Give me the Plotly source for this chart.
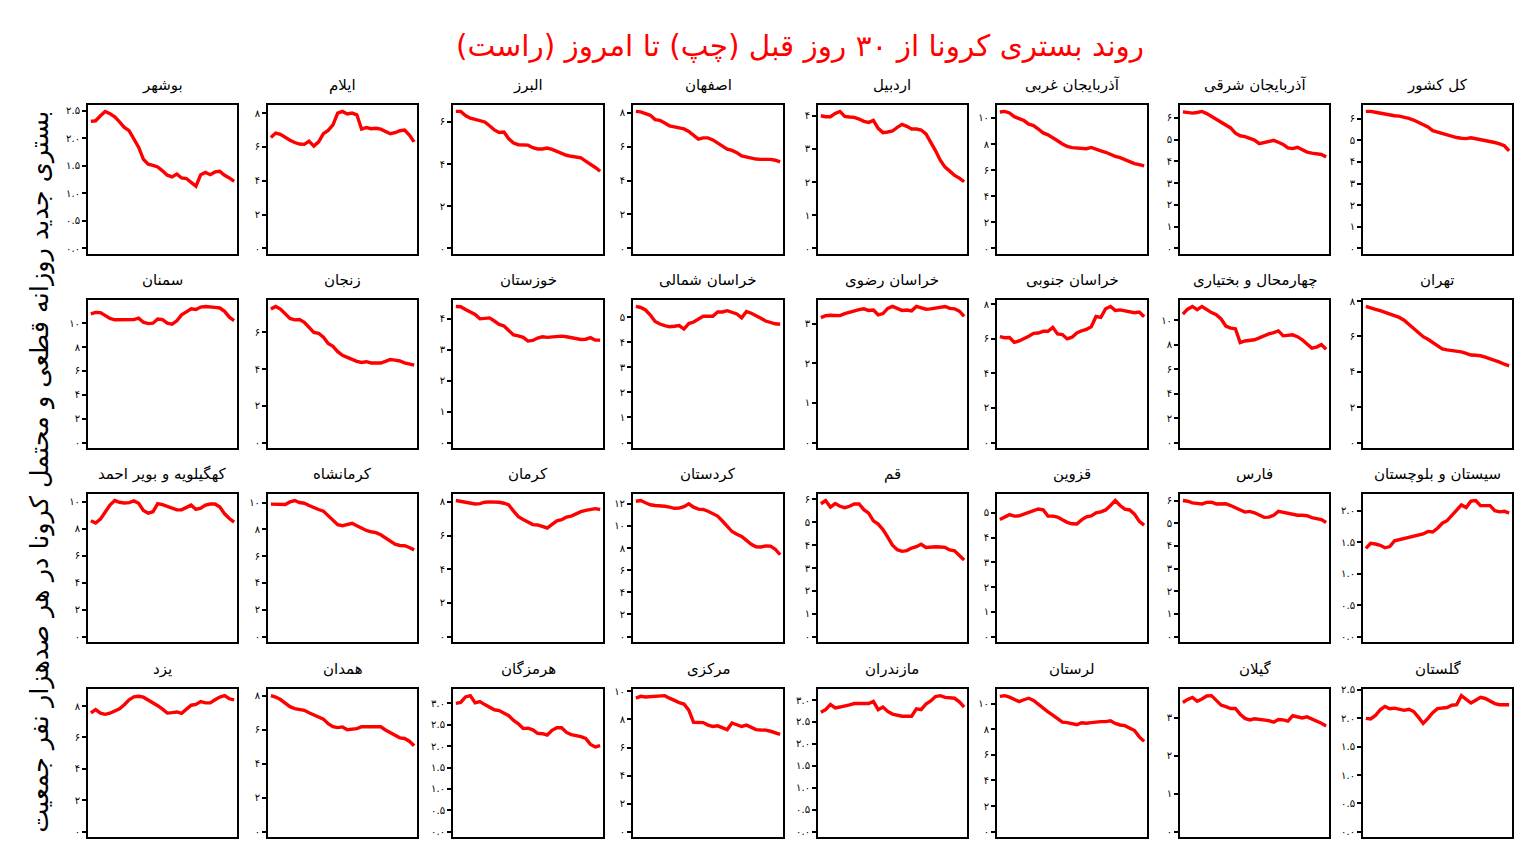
"""Small multiples: 30-day trend of new COVID hospitalisations per province."""

import math

import plotly.graph_objects as go

W, H = 1531, 859
PAGE_PAD = 8  # the browser page adds a body margin; shift everything back by it

TITLE = "روند بستری کرونا از ۳۰ روز قبل (چپ) تا امروز (راست)"
Y_LABEL = "بستری جدید روزانه قطعی و محتمل کرونا در هر صدهزار نفر جمعیت"

DAYS = list(range(31))

# values per 100k people, 30 days ago -> today
kol_keshvar = [6.34, 6.34, 6.3, 6.25, 6.2, 6.17, 6.14, 6.12, 6.08, 6.02, 5.94, 5.84, 5.74, 5.62, 5.45, 5.38,
               5.3, 5.24, 5.18, 5.13, 5.1, 5.08, 5.12, 5.08, 5.03, 5.0, 4.97, 4.9, 4.84, 4.75, 4.51]
azarbayjan_sharghi = [6.28, 6.25, 6.22, 6.25, 6.3, 6.2, 6.07, 5.97, 5.84, 5.7, 5.54, 5.3, 5.18, 5.14, 5.08, 4.98,
                      4.82, 4.87, 4.95, 4.97, 4.88, 4.78, 4.62, 4.59, 4.65, 4.55, 4.43, 4.38, 4.35, 4.32, 4.21]
azarbayjan_gharbi = [10.46, 10.5, 10.38, 10.1, 9.95, 9.8, 9.52, 9.42, 9.15, 8.85, 8.7, 8.5, 8.25, 8.0, 7.82, 7.72,
                     7.68, 7.64, 7.64, 7.74, 7.58, 7.48, 7.37, 7.2, 7.05, 6.95, 6.78, 6.62, 6.5, 6.42, 6.33]
ardabil = [4.0, 3.97, 3.97, 4.07, 4.13, 3.98, 3.96, 3.95, 3.9, 3.83, 3.8, 3.86, 3.62, 3.49, 3.51, 3.54,
           3.65, 3.74, 3.68, 3.6, 3.6, 3.57, 3.45, 3.22, 2.95, 2.66, 2.45, 2.33, 2.2, 2.12, 2.01]
esfahan = [8.08, 8.05, 7.95, 7.85, 7.6, 7.55, 7.4, 7.23, 7.17, 7.12, 7.05, 6.9, 6.67, 6.45, 6.52, 6.52,
           6.4, 6.22, 6.02, 5.85, 5.78, 5.65, 5.45, 5.38, 5.33, 5.27, 5.25, 5.25, 5.25, 5.2, 5.1]
alborz = [6.5, 6.5, 6.3, 6.18, 6.12, 6.08, 6.0, 5.82, 5.62, 5.5, 5.52, 5.2, 5.0, 4.92, 4.9, 4.9,
          4.78, 4.72, 4.72, 4.76, 4.7, 4.6, 4.53, 4.42, 4.37, 4.35, 4.3, 4.14, 4.0, 3.84, 3.66]
ilam = [6.56, 6.82, 6.74, 6.56, 6.4, 6.26, 6.17, 6.15, 6.34, 6.05, 6.3, 6.78, 6.98, 7.3, 8.0, 8.1,
        7.95, 8.0, 7.9, 7.05, 7.15, 7.08, 7.1, 7.05, 6.92, 6.78, 6.84, 6.96, 7.0, 6.7, 6.3]
bushehr = [2.31, 2.32, 2.41, 2.49, 2.45, 2.39, 2.3, 2.2, 2.14, 1.98, 1.84, 1.62, 1.53, 1.51, 1.48, 1.41,
           1.33, 1.3, 1.35, 1.28, 1.27, 1.2, 1.13, 1.34, 1.38, 1.34, 1.39, 1.4, 1.33, 1.28, 1.22]

tehran = [7.7, 7.6, 7.54, 7.46, 7.36, 7.23, 7.14, 7.08, 6.92, 6.7, 6.48, 6.24, 5.99, 5.84, 5.67, 5.47,
          5.3, 5.24, 5.21, 5.18, 5.13, 5.05, 4.95, 4.94, 4.91, 4.83, 4.75, 4.66, 4.55, 4.43, 4.34]
chaharmahal = [10.49, 10.9, 11.12, 10.86, 11.12, 10.85, 10.62, 10.45, 10.1, 9.52, 9.35, 9.3, 8.16, 8.3, 8.32, 8.4,
               8.55, 8.73, 8.87, 8.98, 9.12, 8.72, 8.73, 8.8, 8.65, 8.4, 8.05, 7.72, 7.8, 8.0, 7.62]
khorasan_jonubi = [6.13, 6.07, 6.08, 5.8, 5.88, 6.0, 6.15, 6.32, 6.34, 6.44, 6.44, 6.67, 6.29, 6.25, 6.0, 6.1,
                   6.35, 6.47, 6.55, 6.7, 7.3, 7.25, 7.75, 7.88, 7.65, 7.68, 7.62, 7.58, 7.52, 7.56, 7.28]
khorasan_razavi = [3.15, 3.2, 3.21, 3.2, 3.2, 3.25, 3.29, 3.31, 3.35, 3.37, 3.33, 3.34, 3.22, 3.25, 3.38, 3.43,
                   3.38, 3.33, 3.34, 3.32, 3.43, 3.4, 3.36, 3.37, 3.39, 3.41, 3.43, 3.38, 3.37, 3.31, 3.18]
khorasan_shomali = [5.42, 5.38, 5.28, 5.08, 4.82, 4.72, 4.66, 4.61, 4.63, 4.66, 4.52, 4.74, 4.8, 4.92, 5.03, 5.03,
                    5.03, 5.2, 5.2, 5.25, 5.2, 5.12, 4.97, 5.22, 5.15, 5.06, 4.95, 4.84, 4.78, 4.73, 4.71]
khuzestan = [4.4, 4.39, 4.3, 4.22, 4.14, 4.0, 4.02, 4.03, 3.93, 3.82, 3.77, 3.63, 3.48, 3.45, 3.4, 3.28,
             3.3, 3.38, 3.42, 3.4, 3.41, 3.43, 3.44, 3.42, 3.39, 3.35, 3.33, 3.34, 3.39, 3.31, 3.31]
zanjan = [7.27, 7.41, 7.27, 7.02, 6.76, 6.68, 6.7, 6.55, 6.25, 6.0, 5.95, 5.73, 5.4, 5.24, 4.95, 4.75,
          4.64, 4.52, 4.42, 4.36, 4.4, 4.33, 4.31, 4.33, 4.42, 4.52, 4.49, 4.44, 4.34, 4.26, 4.22]
semnan = [10.77, 10.9, 10.88, 10.65, 10.4, 10.28, 10.27, 10.25, 10.25, 10.3, 10.42, 10.08, 9.96, 10.0, 10.35, 10.3,
          10.0, 9.92, 10.2, 10.7, 10.95, 11.2, 11.15, 11.35, 11.4, 11.33, 11.32, 11.27, 10.99, 10.5, 10.22]

sistan = [1.4, 1.48, 1.47, 1.45, 1.41, 1.43, 1.52, 1.54, 1.56, 1.58, 1.59, 1.62, 1.63, 1.67, 1.66, 1.72,
          1.8, 1.84, 1.92, 2.0, 2.09, 2.05, 2.15, 2.16, 2.08, 2.08, 2.08, 2.0, 1.98, 1.99, 1.96]
fars = [6.0, 5.97, 5.9, 5.86, 5.85, 5.92, 5.93, 5.85, 5.85, 5.86, 5.78, 5.68, 5.55, 5.49, 5.52, 5.46,
        5.36, 5.26, 5.27, 5.35, 5.52, 5.47, 5.42, 5.38, 5.35, 5.35, 5.33, 5.25, 5.2, 5.16, 5.03]
qazvin = [4.73, 4.85, 4.93, 4.87, 4.88, 4.95, 5.02, 5.08, 5.16, 5.13, 4.87, 4.87, 4.83, 4.72, 4.62, 4.56,
          4.55, 4.72, 4.84, 4.88, 5.0, 5.04, 5.12, 5.3, 5.5, 5.3, 5.15, 5.12, 4.95, 4.66, 4.51]
qom = [5.81, 5.95, 5.66, 5.82, 5.7, 5.64, 5.7, 5.8, 5.8, 5.55, 5.4, 5.06, 4.92, 4.68, 4.35, 4.0,
       3.8, 3.73, 3.76, 3.87, 3.93, 4.04, 3.9, 3.93, 3.93, 3.92, 3.9, 3.79, 3.75, 3.55, 3.35]
kordestan = [12.24, 12.3, 12.1, 11.92, 11.85, 11.85, 11.78, 11.7, 11.6, 11.62, 11.75, 12.0, 11.7, 11.52, 11.49,
             11.33, 11.15, 10.9, 10.45, 9.92, 9.5, 9.25, 9.05, 8.7, 8.35, 8.12, 8.1, 8.2, 8.18, 7.9, 7.4]
kerman = [8.08, 8.02, 7.96, 7.92, 7.88, 7.9, 7.98, 8.0, 8.0, 7.98, 7.92, 7.82, 7.45, 7.12, 6.95, 6.78,
          6.65, 6.63, 6.55, 6.45, 6.67, 6.88, 6.94, 7.1, 7.16, 7.3, 7.42, 7.5, 7.55, 7.6, 7.55]
kermanshah = [9.88, 9.88, 9.82, 9.86, 10.05, 10.15, 10.0, 9.95, 9.78, 9.6, 9.48, 9.36, 9.0, 8.68, 8.35, 8.27,
              8.36, 8.45, 8.27, 8.07, 7.92, 7.82, 7.76, 7.6, 7.38, 7.1, 6.9, 6.8, 6.78, 6.65, 6.47]
kohgiluyeh = [8.59, 8.41, 8.7, 9.2, 9.75, 10.08, 9.95, 9.9, 9.93, 10.05, 9.88, 9.35, 9.15, 9.25, 9.85, 9.78,
              9.65, 9.5, 9.39, 9.39, 9.55, 9.74, 9.42, 9.52, 9.75, 9.82, 9.82, 9.6, 9.1, 8.75, 8.49]

golestan = [2.0, 1.99, 2.05, 2.15, 2.21, 2.17, 2.18, 2.16, 2.14, 2.16, 2.12, 2.02, 1.91, 2.0, 2.1, 2.17,
            2.18, 2.19, 2.23, 2.24, 2.4, 2.34, 2.27, 2.32, 2.37, 2.35, 2.3, 2.26, 2.24, 2.24, 2.24]
gilan = [3.41, 3.49, 3.54, 3.44, 3.5, 3.58, 3.59, 3.47, 3.34, 3.3, 3.25, 3.25, 3.1, 2.99, 2.95, 2.98,
         2.96, 2.96, 2.93, 2.89, 2.96, 2.95, 2.92, 3.06, 3.02, 3.0, 3.03, 2.98, 2.92, 2.86, 2.79]
lorestan = [10.56, 10.62, 10.5, 10.3, 10.15, 10.3, 10.42, 10.25, 9.95, 9.58, 9.36, 9.1, 8.8, 8.55, 8.51, 8.42,
            8.35, 8.5, 8.47, 8.51, 8.58, 8.59, 8.59, 8.65, 8.45, 8.33, 8.28, 8.1, 7.9, 7.4, 7.05]
mazandaran = [2.72, 2.78, 2.9, 2.82, 2.84, 2.86, 2.89, 2.92, 2.92, 2.91, 2.92, 2.97, 2.78, 2.84, 2.74, 2.68,
              2.65, 2.63, 2.63, 2.63, 2.8, 2.78, 2.91, 2.98, 3.08, 3.1, 3.06, 3.05, 3.04, 2.96, 2.84]
markazi = [9.53, 9.65, 9.6, 9.63, 9.65, 9.68, 9.7, 9.52, 9.35, 9.2, 9.1, 8.66, 7.8, 7.78, 7.78, 7.6,
           7.5, 7.55, 7.43, 7.28, 7.75, 7.6, 7.5, 7.6, 7.45, 7.28, 7.25, 7.24, 7.16, 7.06, 6.94]
hormozgan = [3.0, 3.02, 3.15, 3.18, 3.01, 3.04, 2.97, 2.9, 2.85, 2.83, 2.77, 2.71, 2.6, 2.52, 2.41, 2.42,
             2.38, 2.3, 2.29, 2.26, 2.37, 2.43, 2.43, 2.32, 2.27, 2.25, 2.22, 2.18, 2.04, 1.98, 2.01]
hamedan = [8.0, 7.92, 7.77, 7.58, 7.35, 7.24, 7.2, 7.14, 6.99, 6.86, 6.75, 6.62, 6.35, 6.18, 6.12, 6.16,
           6.0, 6.05, 6.06, 6.18, 6.19, 6.17, 6.16, 6.17, 5.98, 5.82, 5.68, 5.52, 5.48, 5.32, 5.05]
yazd = [7.56, 7.77, 7.55, 7.47, 7.54, 7.68, 7.82, 8.08, 8.4, 8.58, 8.62, 8.56, 8.4, 8.2, 8.02, 7.8,
        7.55, 7.58, 7.62, 7.53, 7.77, 8.05, 8.1, 8.28, 8.2, 8.2, 8.4, 8.57, 8.66, 8.46, 8.39]

# panel order: row by row, right to left
PROVINCE_NAMES = [
    "کل کشور", "آذربایجان شرقی", "آذربایجان غربی", "اردبیل", "اصفهان", "البرز", "ایلام", "بوشهر",
    "تهران", "چهارمحال و بختیاری", "خراسان جنوبی", "خراسان رضوی", "خراسان شمالی", "خوزستان", "زنجان", "سمنان",
    "سیستان و بلوچستان", "فارس", "قزوین", "قم", "کردستان", "کرمان", "کرمانشاه", "کهگیلویه و بویر احمد",
    "گلستان", "گیلان", "لرستان", "مازندران", "مرکزی", "هرمزگان", "همدان", "یزد",
]
SERIES = [
    kol_keshvar, azarbayjan_sharghi, azarbayjan_gharbi, ardabil, esfahan, alborz, ilam, bushehr,
    tehran, chaharmahal, khorasan_jonubi, khorasan_razavi, khorasan_shomali, khuzestan, zanjan, semnan,
    sistan, fars, qazvin, qom, kordestan, kerman, kermanshah, kohgiluyeh,
    golestan, gilan, lorestan, mazandaran, markazi, hormozgan, hamedan, yazd,
]
TICK_STEPS = [
    1, 1, 2, 1, 2, 2, 2, 0.5,
    2, 2, 2, 1, 1, 1, 2, 2,
    0.5, 1, 1, 1, 2, 2, 2, 2,
    0.5, 1, 2, 0.5, 2, 0.5, 2, 2,
]

# pixel boxes of the plot areas (left->right, top->bottom)
COL_PX = [(88, 237), (268, 417), (453, 603), (633, 783), (818, 967), (997, 1147), (1180, 1329), (1363, 1512)]
ROW_PX = [(101, 251), (297, 446), (492, 641), (688, 837)]

FONT = "DejaVu Sans"
FA_DIGITS = str.maketrans("0123456789", "۰۱۲۳۴۵۶۷۸۹")


def px_x(px: float) -> float:
    return (px - PAGE_PAD) / W


def px_y(px: float) -> float:
    return 1 - (px - PAGE_PAD) / H


def fa(num: float, step: float) -> str:
    txt = f"{num:.1f}" if step < 1 else f"{int(round(num))}"
    return txt.translate(FA_DIGITS)


fig = go.Figure()
layout = {}
annotations = []

for k, (name, vals, step) in enumerate(zip(PROVINCE_NAMES, SERIES, TICK_STEPS)):
    row, col = divmod(k, 8)
    col = 7 - col
    n = k + 1
    sfx = "" if n == 1 else str(n)
    x0, x1 = COL_PX[col]
    y0, y1 = ROW_PX[row]

    fig.add_trace(
        go.Scatter(
            x=DAYS, y=vals, mode="lines",
            line={"color": "#ff0000", "width": 3.4},
            xaxis=f"x{sfx}", yaxis=f"y{sfx}",
            showlegend=False, hoverinfo="skip",
        )
    )

    top = max(vals)
    hi = top * 1.05
    lo = -top * 0.04
    nt = int(math.floor(hi / step + 1e-9))
    tvals = [i * step for i in range(nt + 1)]

    frame = {"showline": True, "linecolor": "black", "linewidth": 2, "mirror": True,
             "showgrid": False, "zeroline": False}
    layout[f"xaxis{sfx}"] = dict(
        frame, domain=[px_x(x0), px_x(x1)], range=[-0.6, 30.6],
        showticklabels=False, ticks="", anchor=f"y{sfx}",
    )
    layout[f"yaxis{sfx}"] = dict(
        frame, domain=[px_y(y1), px_y(y0)], range=[lo, hi],
        tickvals=tvals, ticktext=[fa(v, step) for v in tvals],
        ticks="outside", ticklen=4, tickwidth=1.5, tickcolor="black",
        tickfont={"size": 10, "color": "black", "family": FONT},
        anchor=f"x{sfx}",
    )
    annotations.append(dict(
        text=name, x=px_x((x0 + x1) / 2), y=px_y(y0 - 9),
        xref="paper", yref="paper", xanchor="center", yanchor="bottom",
        showarrow=False, font={"size": 15, "color": "black", "family": FONT},
    ))

annotations.append(dict(
    text=TITLE, x=px_x(800), y=px_y(42), xref="paper", yref="paper",
    xanchor="center", yanchor="middle", showarrow=False,
    font={"size": 29.5, "color": "#ff0000", "family": FONT},
))
annotations.append(dict(
    text=Y_LABEL, x=px_x(40), y=px_y(470), xref="paper", yref="paper",
    xanchor="center", yanchor="middle", showarrow=False, textangle=-90,
    font={"size": 25.5, "color": "black", "family": FONT},
))

fig.update_layout(
    width=W, height=H,
    margin={"l": 0, "r": 0, "t": 0, "b": 0},
    plot_bgcolor="white", paper_bgcolor="white",
    annotations=annotations,
    **layout,
)

fig.write_html("out.html")
